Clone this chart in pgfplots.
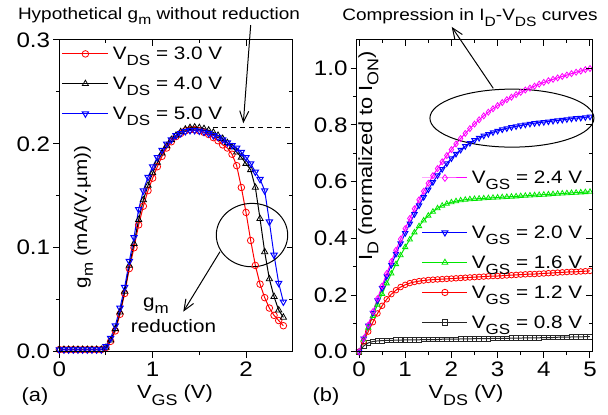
\documentclass[border=0pt]{standalone}
\usepackage{fontspec}
\setmainfont{Liberation Sans}[FakeStretch=1.15]
\usepackage{graphicx}
\usepackage{pgfplots}
\usepackage{pgfplotstable}
\pgfplotsset{compat=1.18}
\usetikzlibrary{arrows.meta}

\definecolor{ogreen}{RGB}{0,230,0}
\definecolor{omag}{RGB}{255,0,255}

\newcommand{\fs}[1]{\fontsize{#1}{#1}\selectfont}
\newcommand{\sub}[1]{\raisebox{-0.33em}{\scalebox{0.82}{#1}}}
\newcommand{\lgd}[1]{\raisebox{0pt}[13pt][0pt]{#1}}

% transconductance vs gate voltage
\pgfplotstableread{
v    r      k      b
0.00 0.002  0.002  0.002
0.05 0.002  0.002  0.002
0.10 0.002  0.002  0.002
0.15 0.002  0.002  0.002
0.20 0.002  0.002  0.002
0.25 0.002  0.002  0.002
0.30 0.002  0.002  0.002
0.35 0.002  0.002  0.002
0.40 0.002  0.002  0.002
0.45 0.002  0.002  0.002
0.50 0.004  0.004  0.005
0.55 0.010  0.011  0.013
0.60 0.020  0.022  0.025
0.65 0.036  0.038  0.042
0.70 0.056  0.058  0.062
0.75 0.080  0.083  0.087
0.80 0.100  0.104  0.110
0.85 0.122  0.127  0.137
0.90 0.140  0.146  0.155
0.95 0.155  0.160  0.168
1.00 0.167  0.172  0.178
1.05 0.178  0.182  0.187
1.10 0.188  0.191  0.194
1.15 0.196  0.198  0.200
1.20 0.202  0.204  0.204
1.25 0.207  0.208  0.208
1.30 0.210  0.2115 0.210
1.35 0.2125 0.214  0.212
1.40 0.2135 0.2155 0.213
1.45 0.2135 0.216  0.213
1.50 0.2125 0.2155 0.2125
1.55 0.211  0.2145 0.2115
1.60 0.209  0.213  0.210
1.65 0.206  0.211  0.208
1.70 0.203  0.208  0.2065
1.75 0.199  0.205  0.204
1.80 0.196  0.201  0.201
1.85 0.190  0.197  0.1985
1.90 0.179  0.192  0.196
1.95 0.158  0.187  0.192
2.00 0.134  0.181  0.187
2.05 0.107  0.175  0.181
2.10 0.083  0.158  0.173
2.15 0.065  0.128  0.166
2.20 0.052  0.096  0.155
2.25 0.042  0.070  0.125
2.30 0.035  0.053  0.093
2.35 0.030  0.040  0.066
2.40 0.025  0.033  0.048
}\gmdata

% normalized drain current vs drain voltage
\pgfplotstableread{
v   m     b     g     r     k
0.0 0.000 0.000 0.000 0.000 0.000
0.1 0.047 0.046 0.043 0.036 0.020
0.2 0.094 0.092 0.085 0.071 0.031
0.3 0.141 0.137 0.126 0.104 0.036
0.4 0.187 0.181 0.166 0.135 0.038
0.5 0.232 0.224 0.204 0.162 0.039
0.6 0.276 0.266 0.241 0.185 0.040
0.7 0.318 0.306 0.276 0.203 0.040
0.8 0.358 0.345 0.309 0.217 0.041
0.9 0.397 0.382 0.340 0.228 0.041
1.0 0.434 0.418 0.369 0.236 0.042
1.1 0.470 0.452 0.396 0.242 0.042
1.2 0.504 0.485 0.421 0.246 0.042
1.3 0.536 0.516 0.443 0.249 0.042
1.4 0.566 0.545 0.463 0.251 0.043
1.5 0.594 0.572 0.480 0.253 0.043
1.6 0.621 0.598 0.494 0.254 0.043
1.7 0.646 0.622 0.506 0.255 0.043
1.8 0.670 0.644 0.515 0.256 0.044
1.9 0.692 0.664 0.522 0.257 0.044
2.0 0.713 0.682 0.527 0.258 0.044
2.1 0.733 0.698 0.531 0.259 0.044
2.2 0.752 0.712 0.534 0.260 0.045
2.3 0.770 0.725 0.536 0.261 0.045
2.4 0.787 0.736 0.538 0.262 0.045
2.5 0.803 0.746 0.539 0.263 0.046
2.6 0.818 0.754 0.540 0.264 0.046
2.7 0.832 0.762 0.541 0.265 0.046
2.8 0.845 0.768 0.542 0.266 0.046
2.9 0.857 0.774 0.543 0.267 0.047
3.0 0.868 0.779 0.544 0.267 0.047
3.1 0.879 0.784 0.545 0.268 0.047
3.2 0.889 0.788 0.546 0.269 0.047
3.3 0.898 0.792 0.547 0.270 0.048
3.4 0.907 0.795 0.548 0.271 0.048
3.5 0.915 0.798 0.549 0.272 0.048
3.6 0.923 0.801 0.550 0.273 0.049
3.7 0.930 0.804 0.551 0.274 0.049
3.8 0.937 0.806 0.552 0.274 0.049
3.9 0.944 0.808 0.553 0.275 0.049
4.0 0.950 0.810 0.554 0.276 0.050
4.1 0.956 0.812 0.555 0.277 0.050
4.2 0.961 0.814 0.556 0.278 0.050
4.3 0.966 0.816 0.557 0.279 0.051
4.4 0.971 0.818 0.558 0.280 0.051
4.5 0.976 0.820 0.559 0.281 0.051
4.6 0.981 0.822 0.560 0.282 0.052
4.7 0.986 0.824 0.561 0.282 0.052
4.8 0.990 0.825 0.562 0.283 0.052
4.9 0.995 0.827 0.563 0.284 0.053
5.0 0.999 0.829 0.564 0.285 0.053
}\iddata

\pgfplotsset{
  /pgf/number format/assume math mode=true,
  frame/.style={
    scale only axis, clip=false,
    axis line style={line width=1.1pt},
    major tick style={line width=1pt, black},
    minor tick style={line width=1pt, black},
    major tick length=6pt, minor tick length=3.5pt,
    tick label style={font=\fs{21}},
    xticklabel style={inner ysep=4pt},
    yticklabel style={inner xsep=3pt,
      /pgf/number format/fixed, /pgf/number format/fixed zerofill,
      /pgf/number format/precision=1},
  },
  pa/.style={frame, width=233.4pt, height=311.8pt,
    xmin=0, xmax=2.5, ymin=0, ymax=0.3,
    xtick={0,1,2}, minor xtick={0.5,1.5},
    ytick={0,0.1,0.2,0.3}, minor ytick={0.05,0.15,0.25}},
  pb/.style={frame, width=235.6pt, height=311.8pt,
    xmin=-0.05, xmax=5.05, ymin=0, ymax=1.1,
    xtick={0,1,2,3,4,5}, minor xtick={0.5,1.5,2.5,3.5,4.5},
    ytick={0,0.2,0.4,0.6,0.8,1.0}, minor ytick={0.1,0.3,0.5,0.7,0.9}},
  back/.style={tick pos=left, tick align=outside},
  front/.style={tick pos=right, tick align=inside, xticklabels={}, yticklabels={}},
  lgdstyle/.style={
    legend cell align=left,
    legend style={draw=none, fill=none, inner sep=0pt, row sep=15.4pt,
      column sep=4pt, font=\fs{18}, nodes={inner sep=0pt}},
  },
  curve/.style={line width=1pt, mark options={solid, line width=0.8pt}},
}

\begin{document}
\begin{tikzpicture}[x=1pt, y=1pt]
\useasboundingbox (0,0) rectangle (608,415);

% ---------------- panel (a) ----------------
\begin{axis}[pa, back, at={(59.3pt,63.3pt)}, anchor=south west, lgdstyle,
  legend style={at={(0.0103,0.979)}, anchor=north west},
  legend image code/.code={\draw[mark repeat=2,mark phase=2,#1] plot coordinates {(0pt,0pt)(23pt,0pt)(46pt,0pt)};}]
\addplot[curve, red, mark=o, mark size=3.3pt] table[x=v, y=r] {\gmdata};
\addlegendentry{\lgd{V\sub{DS} = 3.0 V}}
\addplot[curve, black, mark=triangle, mark size=3.6pt] table[x=v, y=k] {\gmdata};
\addlegendentry{\lgd{V\sub{DS} = 4.0 V}}
\addplot[curve, blue, mark=triangle, mark size=3.6pt, mark options={rotate=180}] table[x=v, y=b] {\gmdata};
\addlegendentry{\lgd{V\sub{DS} = 5.0 V}}
\draw[line width=1pt, dash pattern=on 5pt off 4pt] (axis cs:1.65,0.216) -- (axis cs:2.5,0.216);
\draw[line width=1pt] (axis cs:2.064,0.1122) ellipse [x radius=35.7pt, y radius=31.7pt];
\draw[line width=1pt, -{Straight Barb[length=11pt,width=9pt]}] (axis cs:2.050,0.3143) -- (axis cs:1.971,0.2198);
\draw[line width=1pt, -{Straight Barb[length=11pt,width=9pt]}] (axis cs:1.721,0.0962) -- (axis cs:1.328,0.0385);
\end{axis}
\begin{axis}[pa, front, at={(59.3pt,63.3pt)}, anchor=south west]
\end{axis}

% ---------------- panel (b) ----------------
\begin{axis}[pb, back, at={(356.7pt,63.3pt)}, anchor=south west, lgdstyle,
  legend style={at={(0.276,0.4057)}, anchor=north west},
  legend image code/.code={\draw[mark repeat=2,mark phase=2,#1] plot coordinates {(0pt,0pt)(22.5pt,0pt)(45pt,0pt)};}]
\addplot[curve, black!85, mark=square, mark size=2.3pt, forget plot] table[x=v, y=k] {\iddata};
\addplot[curve, red, mark=o, mark size=2.8pt, forget plot] table[x=v, y=r] {\iddata};
\addplot[curve, ogreen, mark=triangle, mark size=3pt, forget plot] table[x=v, y=g] {\iddata};
\addplot[curve, blue, mark=triangle, mark size=3pt, mark options={rotate=180}, forget plot] table[x=v, y=b] {\iddata};
\addplot[curve, omag, mark=diamond, mark size=3pt, forget plot] table[x=v, y=m] {\iddata};
\addlegendimage{curve, blue, mark=triangle, mark size=3.4pt, mark options={rotate=180}}
\addlegendentry{\lgd{V\sub{GS} = 2.0 V}}
\addlegendimage{curve, ogreen, mark=triangle, mark size=3.4pt}
\addlegendentry{\lgd{V\sub{GS} = 1.6 V}}
\addlegendimage{curve, red, mark=o, mark size=3.2pt}
\addlegendentry{\lgd{V\sub{GS} = 1.2 V}}
\addlegendimage{curve, black!85, mark=square, mark size=2.8pt}
\addlegendentry{\lgd{V\sub{GS} = 0.8 V}}
\draw[line width=1pt] (axis cs:3.31,0.824) ellipse [x radius=82pt, y radius=29pt];
\draw[line width=1pt, -{Straight Barb[length=11pt,width=9pt]}] (axis cs:2.907,0.929) -- (axis cs:2.007,1.146);
\end{axis}
% frame overlay of panel (b), carrying the legend entry of the top curve
\begin{axis}[pb, front, at={(356.7pt,63.3pt)}, anchor=south west, lgdstyle,
  legend style={at={(0.276,0.581)}, anchor=north west},
  legend image code/.code={\draw[mark repeat=2,mark phase=2,#1] plot coordinates {(0pt,0pt)(22.5pt,0pt)(45pt,0pt)};}]
\addlegendimage{curve, omag, mark=diamond, mark size=3.4pt}
\addlegendentry{\lgd{V\sub{GS} = 2.4 V}}
\end{axis}

% ---------------- labels ----------------
\node[anchor=base, font=\fs{16.5}] at (159,395.5) {Hypothetical g\sub{m} without reduction};
\node[anchor=base, font=\fs{16.5}] at (470,394.3) {Compression in I\sub{D}-V\sub{DS} curves};
\node[anchor=base west, font=\fs{18}, inner sep=0pt] at (143,107) {g\sub{m}};
\node[anchor=base west, font=\fs{18}, inner sep=0pt] at (130.7,82) {reduction};
\node[anchor=base, font=\fs{19}] at (35,13) {(a)};
\node[anchor=base, font=\fs{19}] at (326,13) {(b)};
\node[anchor=base, font=\fs{19}] at (175,16) {V\sub{GS} (V)};
\node[anchor=base, font=\fs{19}] at (466,16) {V\sub{DS} (V)};
\node[anchor=base, rotate=90, font=\fs{18}, inner sep=0pt] at (87,198) {g\sub{m} (mA/(V.µm))};
\node[anchor=base, rotate=90, font=\fs{19}, inner sep=0pt] at (372,259) {I\sub{D} (normalized to I\sub{ON})};
\end{tikzpicture}
\end{document}
